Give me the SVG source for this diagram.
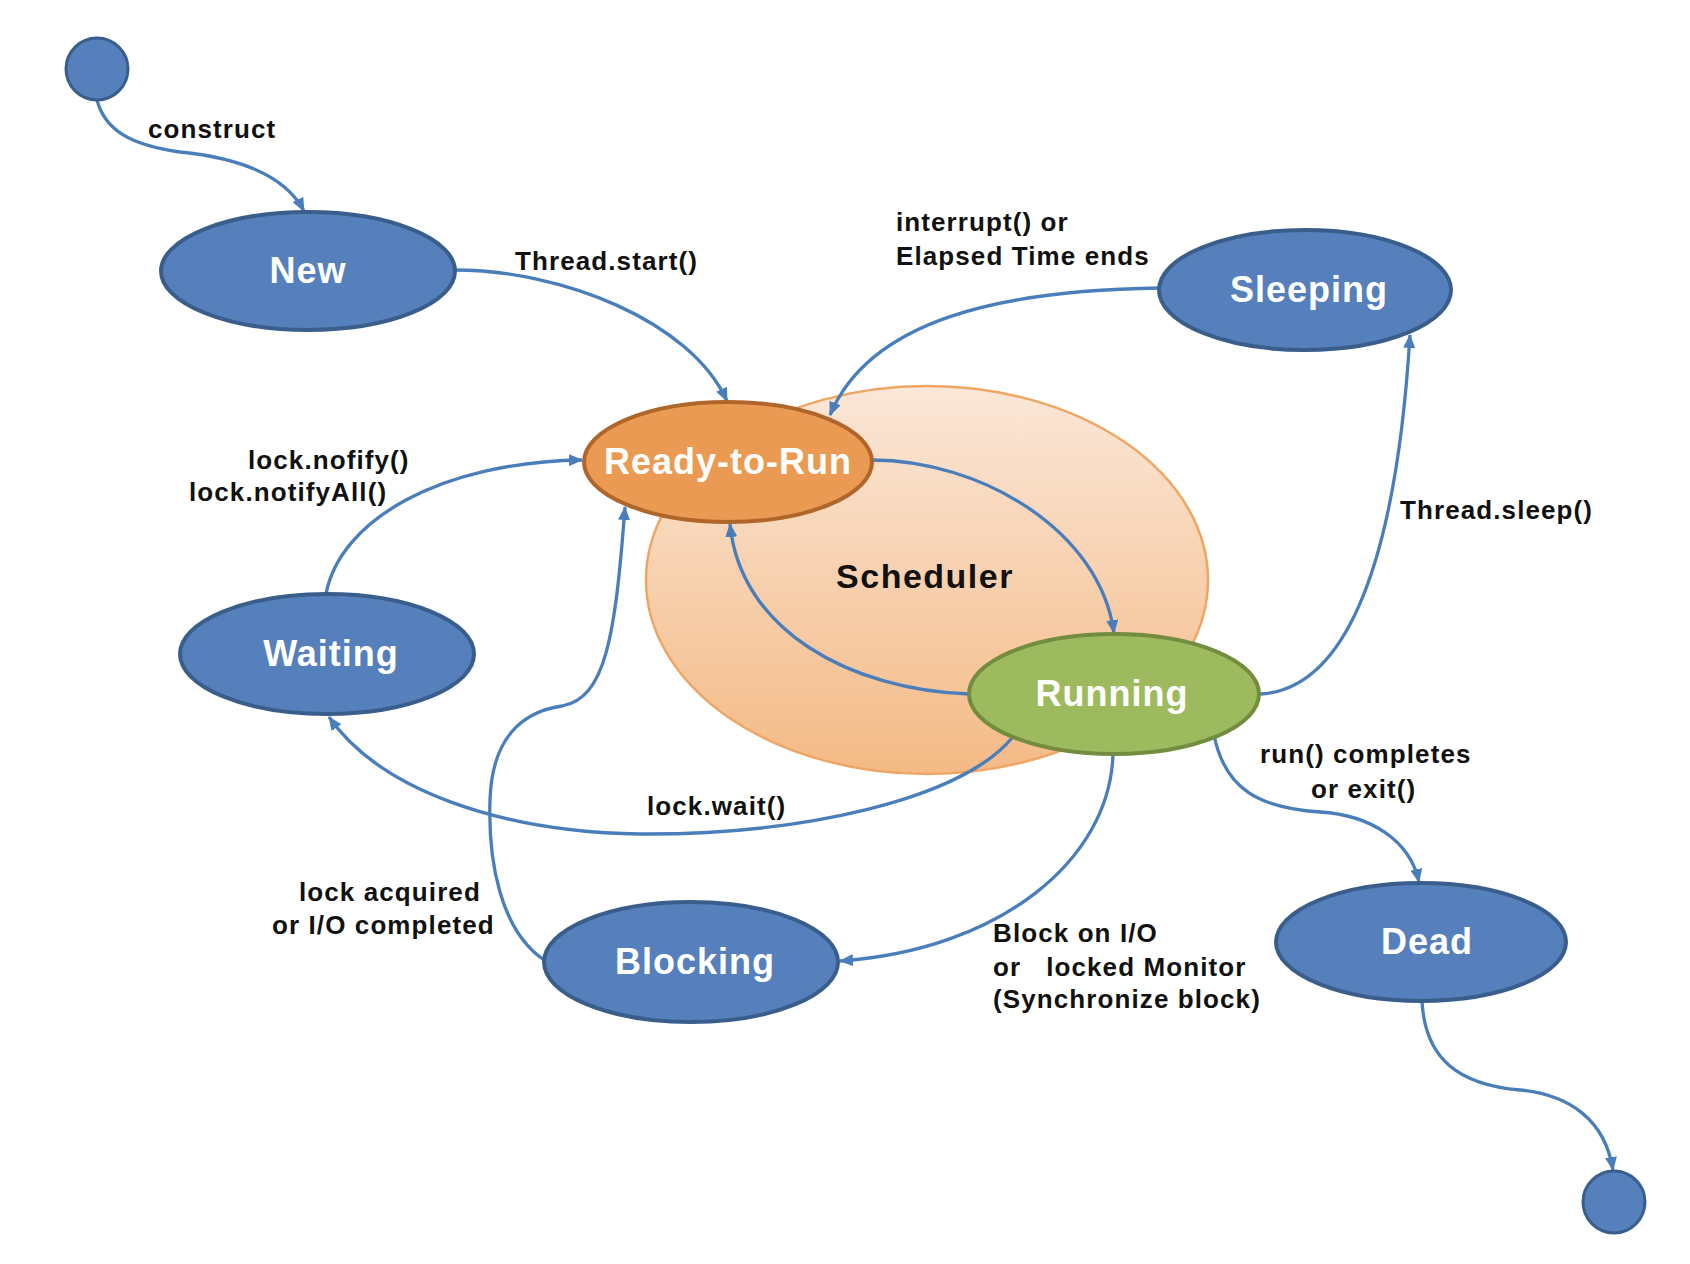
<svg xmlns="http://www.w3.org/2000/svg" width="1690" height="1264" viewBox="0 0 1690 1264">
<defs>
<linearGradient id="schedGrad" x1="0" y1="0" x2="0" y2="1">
<stop offset="0" stop-color="#FBE7D8"/>
<stop offset="1" stop-color="#F4BA85"/>
</linearGradient>
<marker id="arrow" viewBox="0 0 14 12" refX="13" refY="6" markerWidth="14" markerHeight="12" markerUnits="userSpaceOnUse" orient="auto">
<path d="M0,0 L14,6 L0,12 z" fill="#4A7EBB"/>
</marker>
</defs>
<style>
.state{fill:#5680BB;stroke:#3A5E8C;stroke-width:4}
.terminal{fill:#5680BB;stroke:#3A5E8C;stroke-width:3}
.ready{fill:#EA9A52;stroke:#B0652B;stroke-width:4}
.running{fill:#9DBB5E;stroke:#728D3F;stroke-width:4}
.sched{fill:url(#schedGrad);stroke:#EFA664;stroke-width:2.5}
.name{font-family:"Liberation Sans",Arial,sans-serif;font-weight:bold;font-size:36px;fill:#FFFFFF;text-anchor:middle;letter-spacing:1px}
.label{font-family:"Liberation Sans",Arial,sans-serif;font-weight:bold;font-size:26px;fill:#111111;white-space:pre;letter-spacing:1.1px}
.edge{fill:none;stroke:#4A7EBB;stroke-width:3.3}
.arr{marker-end:url(#arrow)}
</style>
<rect x="0" y="0" width="1690" height="1264" fill="#FFFFFF"/>

<g id="scheduler">
<ellipse class="sched" cx="927" cy="580" rx="281" ry="194"/>
<text x="925" y="588" font-family="Liberation Sans, Arial, sans-serif" font-weight="bold" font-size="34" fill="#111111" text-anchor="middle" letter-spacing="1.5">Scheduler</text>
</g>

<g id="connectors">
<path class="edge arr" d="M97,100 C105,130 130,145 180,152 C240,158 285,175 304,211"/>
<path class="edge arr" d="M455,270 C560,270 690,320 727,401"/>
<path class="edge arr" d="M1160,288 C1000,290 870,320 830,415"/>
<path class="edge arr" d="M872,460 C980,460 1100,530 1114,633"/>
<path class="edge arr" d="M969,694 C850,690 740,630 730,524"/>
<path class="edge arr" d="M1260,694 C1340,690 1395,580 1410,335"/>
<path class="edge arr" d="M1012,738 C960,800 800,835 640,834 C500,832 380,790 329,717"/>
<path class="edge arr" d="M1113,754 C1110,860 1000,950 840,961"/>
<path class="edge arr" d="M544,960 C500,930 488,860 490,800 C492,740 520,712 562,706 C605,698 615,640 625,507"/>
<path class="edge arr" d="M326,594 C340,520 440,462 582,460"/>
<path class="edge arr" d="M1214,735 C1225,790 1260,808 1320,812 C1370,815 1410,840 1419,882"/>
<path class="edge arr" d="M1422,1001 C1425,1060 1460,1085 1520,1090 C1570,1095 1605,1120 1613,1170"/>
<text class="label" x="148" y="138">construct</text>
<text class="label" x="515" y="270">Thread.start()</text>
<text class="label" x="896" y="231">interrupt() or</text>
<text class="label" x="896" y="265">Elapsed Time ends</text>
<text class="label" x="248" y="469">lock.nofify()</text>
<text class="label" x="189" y="501">lock.notifyAll()</text>
<text class="label" x="1400" y="519">Thread.sleep()</text>
<text class="label" x="1260" y="763">run() completes</text>
<text class="label" x="1311" y="798">or exit()</text>
<text class="label" x="647" y="815">lock.wait()</text>
<text class="label" x="299" y="901">lock acquired</text>
<text class="label" x="272" y="934">or I/O completed</text>
<text class="label" x="993" y="942">Block on I/O</text>
<text class="label" x="993" y="976">or   locked Monitor</text>
<text class="label" x="993" y="1008">(Synchronize block)</text>
</g>

<g id="start"><circle class="terminal" cx="97" cy="69" r="31"/></g>
<g id="new"><ellipse class="state" cx="308" cy="271" rx="147" ry="59"/><text class="name" x="308" y="283">New</text></g>
<g id="ready"><ellipse class="ready" cx="728" cy="462" rx="144" ry="60"/><text class="name" x="728" y="474">Ready-to-Run</text></g>
<g id="sleeping"><ellipse class="state" cx="1305" cy="290" rx="146" ry="60"/><text class="name" x="1309" y="302">Sleeping</text></g>
<g id="waiting"><ellipse class="state" cx="327" cy="654" rx="147" ry="60"/><text class="name" x="331" y="666">Waiting</text></g>
<g id="running"><ellipse class="running" cx="1114" cy="694" rx="145" ry="60"/><text class="name" x="1112" y="706">Running</text></g>
<g id="blocking"><ellipse class="state" cx="691" cy="962" rx="147" ry="60"/><text class="name" x="695" y="974">Blocking</text></g>
<g id="dead"><ellipse class="state" cx="1421" cy="942" rx="145" ry="59"/><text class="name" x="1427" y="954">Dead</text></g>
<g id="end"><circle class="terminal" cx="1614" cy="1202" r="31"/></g>
</svg>
